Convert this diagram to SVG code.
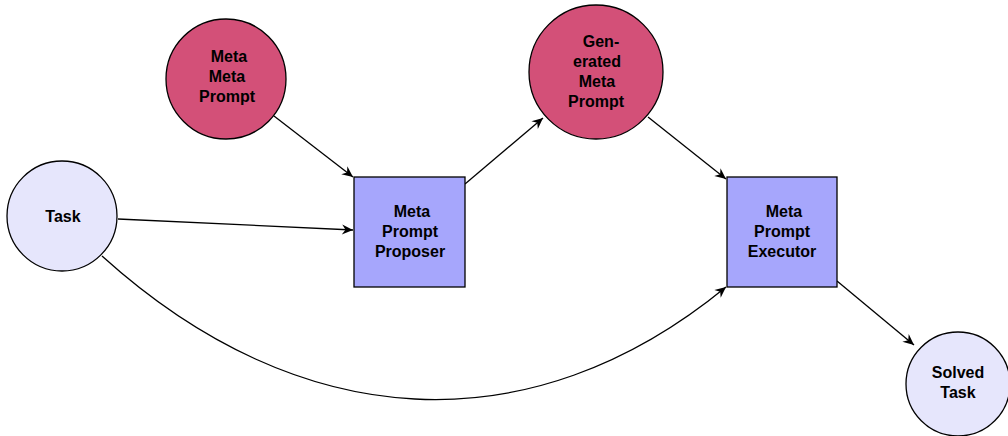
<svg xmlns="http://www.w3.org/2000/svg" width="1008" height="436" viewBox="0 0 1008 436">
<style>
.pink{fill:#D35078;stroke:#000;stroke-width:1.3}
.light{fill:#E6E6FC;stroke:#000;stroke-width:1.3}
.box{fill:#A6A6FC;stroke:#000;stroke-width:1.3}
.lbl{font-family:"Liberation Sans",Arial,sans-serif;font-weight:bold;font-size:16px;fill:#000;text-anchor:middle}
.edge{fill:none;stroke:#000;stroke-width:1.3}
</style>
<defs>
<marker id="arr" markerUnits="userSpaceOnUse" markerWidth="14" markerHeight="14" viewBox="-12 -7 13 14" refX="0" refY="0" orient="auto">
<path d="M0,0 L-11,-5 L-7.5,0 L-11,5 Z" fill="#000"/>
</marker>
</defs>
<rect width="1008" height="436" fill="#fff"/>
<g id="connectors">
<path class="edge" d="M274,116 L353,177" marker-end="url(#arr)"/>
<path class="edge" d="M118,219 L353,230" marker-end="url(#arr)"/>
<path class="edge" d="M465,184 L543,118" marker-end="url(#arr)"/>
<path class="edge" d="M648,117 L726,179" marker-end="url(#arr)"/>
<path class="edge" d="M837,281 L914,345" marker-end="url(#arr)"/>
<path class="edge" d="M102,256 C 300,435 530,448 726,287" marker-end="url(#arr)"/>
</g>
<g id="meta-meta-prompt">
<circle class="pink" cx="226" cy="79" r="60"/>
<text class="lbl" x="229" y="62">Meta</text>
<text class="lbl" x="227" y="82">Meta</text>
<text class="lbl" x="227" y="102">Prompt</text>
</g>
<g id="generated-meta-prompt">
<circle class="pink" cx="596" cy="72" r="67"/>
<text class="lbl" x="601" y="47">Gen-</text>
<text class="lbl" x="597" y="67">erated</text>
<text class="lbl" x="597" y="87">Meta</text>
<text class="lbl" x="596" y="107">Prompt</text>
</g>
<g id="task">
<circle class="light" cx="62" cy="216" r="55"/>
<text class="lbl" x="63" y="222">Task</text>
</g>
<g id="proposer">
<rect class="box" x="354" y="177" width="111" height="110"/>
<text class="lbl" x="412" y="217">Meta</text>
<text class="lbl" x="410" y="237">Prompt</text>
<text class="lbl" x="410" y="257">Proposer</text>
</g>
<g id="executor">
<rect class="box" x="727" y="177" width="110" height="110"/>
<text class="lbl" x="784" y="217">Meta</text>
<text class="lbl" x="782" y="237">Prompt</text>
<text class="lbl" x="782" y="257">Executor</text>
</g>
<g id="solved-task">
<circle class="light" cx="958" cy="384" r="52"/>
<text class="lbl" x="958" y="378">Solved</text>
<text class="lbl" x="958" y="398">Task</text>
</g>
</svg>
